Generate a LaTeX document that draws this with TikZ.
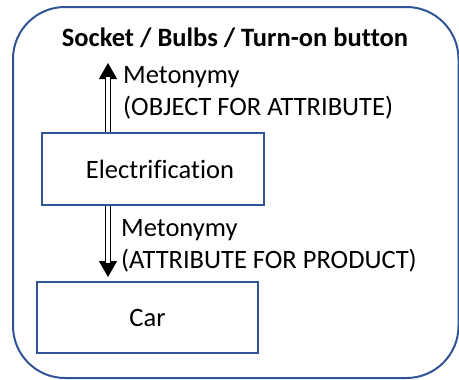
\documentclass[tikz,border=0pt]{standalone}
\usepackage{fontspec}
\setmainfont{Carlito}[Ligatures=NoCommon]
\usetikzlibrary{arrows.meta}
\definecolor{frameblue}{RGB}{47,85,151}
\begin{document}
\begin{tikzpicture}[x=1pt,y=-1pt,
  every node/.style={font=\fontsize{26.5}{32}\selectfont, inner sep=0pt},
  box/.style={draw=frameblue, line width=2pt, rectangle},
  conntip/.style={line width=1pt, -{Triangle[length=16pt,width=18pt]}},
  connshaft/.style={double, double distance=3.4pt, line width=1.2pt, shorten >=14pt},
  lbl/.style={align=left, anchor=base west}]
\useasboundingbox (0,0) rectangle (459,380);
\draw[frameblue, line width=2pt, rounded corners=52pt] (13,7) rectangle (458.5,378);
\node[anchor=base, font=\fontsize{26.5}{32}\selectfont\bfseries] (title) at (235,46) {Socket / Bulbs / Turn-on button};
\node[box, minimum width=222pt, minimum height=72pt] (elec) at (153,169) {\hspace*{14pt}Electrification};
\node[box, minimum width=221pt, minimum height=71pt] (car) at (147.5,317.5) {Car};
\coordinate (uptip) at (108,63);
\coordinate (dntip) at (108,277);
\draw[conntip] (elec.north -| uptip) -- (uptip);
\draw[connshaft] (elec.north -| uptip) -- (uptip);
\draw[conntip] (elec.south -| dntip) -- (dntip);
\draw[connshaft] (elec.south -| dntip) -- (dntip);
\node[lbl] (l1) at (123,115) {Metonymy\\(OBJECT FOR ATTRIBUTE)};
\node[lbl] (l2) at (121,268) {Metonymy\\(ATTRIBUTE FOR PRODUCT)};
\end{tikzpicture}
\end{document}
